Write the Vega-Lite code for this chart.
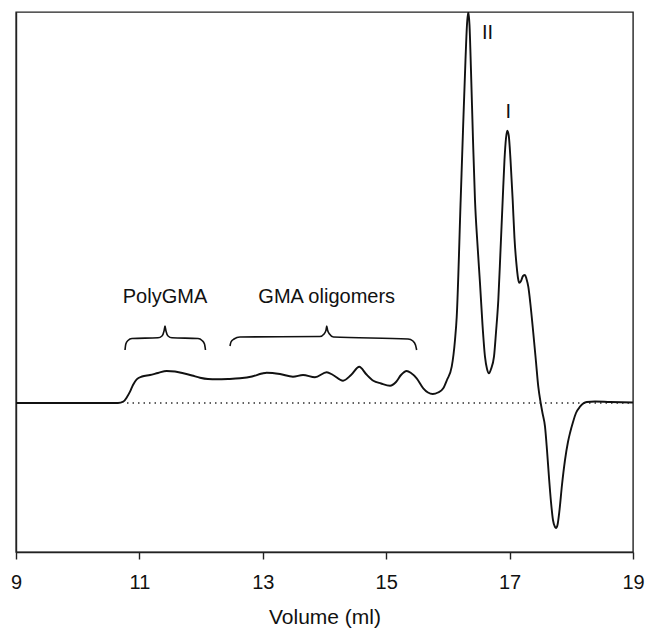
{
  "$schema": "https://vega.github.io/schema/vega-lite/v6.json",
  "width": 617,
  "height": 540,
  "autosize": "none",
  "padding": {"left": 16, "top": 12, "right": 12, "bottom": 86},
  "background": "white",
  "config": {
    "view": {"stroke": "#222", "strokeWidth": 1.4},
    "font": "Liberation Sans"
  },
  "datasets": {
    "trace": [
      {"v": 9.0, "s": 0}, {"v": 9.713, "s": 0}, {"v": 10.361, "s": 0}, {"v": 10.653, "s": 0},
      {"v": 10.739, "s": 1.3}, {"v": 10.799, "s": 6}, {"v": 10.848, "s": 11.3}, {"v": 10.896, "s": 18},
      {"v": 10.956, "s": 23.7}, {"v": 11.042, "s": 26.5}, {"v": 11.172, "s": 28}, {"v": 11.301, "s": 30},
      {"v": 11.442, "s": 32}, {"v": 11.577, "s": 31.5}, {"v": 11.711, "s": 29.7}, {"v": 11.853, "s": 27.5},
      {"v": 11.982, "s": 25.3}, {"v": 12.112, "s": 24}, {"v": 12.253, "s": 23.7}, {"v": 12.436, "s": 24},
      {"v": 12.63, "s": 24.7}, {"v": 12.825, "s": 26.5}, {"v": 12.987, "s": 29.5}, {"v": 13.063, "s": 30.3},
      {"v": 13.279, "s": 29}, {"v": 13.489, "s": 26.3}, {"v": 13.652, "s": 28}, {"v": 13.846, "s": 25.7},
      {"v": 14.036, "s": 30.7}, {"v": 14.138, "s": 28}, {"v": 14.3, "s": 22.3}, {"v": 14.43, "s": 28},
      {"v": 14.564, "s": 36.3}, {"v": 14.673, "s": 29}, {"v": 14.791, "s": 22.3}, {"v": 14.916, "s": 19.5},
      {"v": 15.062, "s": 17.3}, {"v": 15.159, "s": 21}, {"v": 15.24, "s": 28}, {"v": 15.332, "s": 32},
      {"v": 15.402, "s": 30}, {"v": 15.494, "s": 24.7}, {"v": 15.601, "s": 14.7}, {"v": 15.677, "s": 10.5},
      {"v": 15.754, "s": 9}, {"v": 15.84, "s": 10.5}, {"v": 15.925, "s": 14.7}, {"v": 15.985, "s": 23},
      {"v": 16.062, "s": 36.3}, {"v": 16.115, "s": 63}, {"v": 16.143, "s": 86.3}, {"v": 16.207, "s": 203},
      {"v": 16.245, "s": 273}, {"v": 16.285, "s": 343}, {"v": 16.309, "s": 378}, {"v": 16.331, "s": 391},
      {"v": 16.35, "s": 378}, {"v": 16.374, "s": 333}, {"v": 16.407, "s": 263}, {"v": 16.439, "s": 203},
      {"v": 16.48, "s": 158}, {"v": 16.52, "s": 120}, {"v": 16.561, "s": 78}, {"v": 16.601, "s": 46.3},
      {"v": 16.634, "s": 34}, {"v": 16.666, "s": 29.7}, {"v": 16.699, "s": 34}, {"v": 16.747, "s": 46.3},
      {"v": 16.78, "s": 71}, {"v": 16.817, "s": 103}, {"v": 16.853, "s": 153}, {"v": 16.888, "s": 203},
      {"v": 16.917, "s": 243}, {"v": 16.942, "s": 265}, {"v": 16.963, "s": 272.3}, {"v": 16.987, "s": 267},
      {"v": 17.015, "s": 243}, {"v": 17.05, "s": 203}, {"v": 17.079, "s": 165}, {"v": 17.115, "s": 136.3},
      {"v": 17.136, "s": 125}, {"v": 17.157, "s": 120.3}, {"v": 17.185, "s": 122}, {"v": 17.217, "s": 127},
      {"v": 17.25, "s": 128}, {"v": 17.274, "s": 124}, {"v": 17.303, "s": 116.3}, {"v": 17.339, "s": 98},
      {"v": 17.384, "s": 70}, {"v": 17.428, "s": 41}, {"v": 17.465, "s": 16.3}, {"v": 17.504, "s": 0},
      {"v": 17.533, "s": -10}, {"v": 17.574, "s": -23.7}, {"v": 17.606, "s": -47}, {"v": 17.639, "s": -75},
      {"v": 17.671, "s": -99}, {"v": 17.703, "s": -117}, {"v": 17.736, "s": -124}, {"v": 17.752, "s": -125},
      {"v": 17.776, "s": -122}, {"v": 17.809, "s": -107}, {"v": 17.849, "s": -82}, {"v": 17.898, "s": -57},
      {"v": 17.946, "s": -39}, {"v": 17.979, "s": -30}, {"v": 18.028, "s": -19}, {"v": 18.076, "s": -10},
      {"v": 18.141, "s": -3.7}, {"v": 18.25, "s": 1}, {"v": 18.384, "s": 1.5}, {"v": 18.627, "s": 1},
      {"v": 19.0, "s": 0.5}
    ],
    "braces": [
      {"b": "poly", "i": 0, "v": 10.767, "s": 53}, {"b": "poly", "i": 1, "v": 10.78, "s": 59},
      {"b": "poly", "i": 2, "v": 10.815, "s": 62.5}, {"b": "poly", "i": 3, "v": 10.88, "s": 64.5},
      {"b": "poly", "i": 4, "v": 11.301, "s": 65.2}, {"b": "poly", "i": 5, "v": 11.366, "s": 67},
      {"b": "poly", "i": 6, "v": 11.399, "s": 72}, {"b": "poly", "i": 7, "v": 11.415, "s": 77},
      {"b": "poly", "i": 8, "v": 11.431, "s": 72}, {"b": "poly", "i": 9, "v": 11.464, "s": 67},
      {"b": "poly", "i": 10, "v": 11.528, "s": 65.2}, {"b": "poly", "i": 11, "v": 11.95, "s": 64.5},
      {"b": "poly", "i": 12, "v": 12.015, "s": 62.5}, {"b": "poly", "i": 13, "v": 12.055, "s": 59},
      {"b": "poly", "i": 14, "v": 12.071, "s": 53},
      {"b": "olig", "i": 0, "v": 12.468, "s": 57}, {"b": "olig", "i": 1, "v": 12.484, "s": 61},
      {"b": "olig", "i": 2, "v": 12.533, "s": 64}, {"b": "olig", "i": 3, "v": 12.63, "s": 66},
      {"b": "olig", "i": 4, "v": 13.927, "s": 66.5}, {"b": "olig", "i": 5, "v": 13.992, "s": 69},
      {"b": "olig", "i": 6, "v": 14.025, "s": 73}, {"b": "olig", "i": 7, "v": 14.036, "s": 77},
      {"b": "olig", "i": 8, "v": 14.049, "s": 73}, {"b": "olig", "i": 9, "v": 14.081, "s": 69},
      {"b": "olig", "i": 10, "v": 14.146, "s": 66}, {"b": "olig", "i": 11, "v": 15.353, "s": 64},
      {"b": "olig", "i": 12, "v": 15.434, "s": 62}, {"b": "olig", "i": 13, "v": 15.475, "s": 58},
      {"b": "olig", "i": 14, "v": 15.494, "s": 53}
    ],
    "labels": [
      {"v": 11.415, "s": 106, "text": "PolyGMA"},
      {"v": 14.036, "s": 106, "text": "GMA oligomers"},
      {"v": 16.642, "s": 370, "text": "II"},
      {"v": 16.979, "s": 291, "text": "I"}
    ]
  },
  "layer": [
    {
      "data": {"values": [{"v0": 10.8, "v1": 19.0, "s": 0}]},
      "mark": {"type": "rule", "stroke": "#222", "strokeWidth": 1.4, "strokeDash": [1.4, 4.1]},
      "encoding": {
        "x": {"field": "v0", "type": "quantitative"},
        "x2": {"field": "v1"},
        "y": {"field": "s", "type": "quantitative"}
      }
    },
    {
      "data": {"name": "trace"},
      "mark": {"type": "line", "stroke": "#111", "strokeWidth": 1.9, "interpolate": "monotone", "clip": true},
      "encoding": {
        "x": {
          "field": "v",
          "type": "quantitative",
          "scale": {"domain": [9, 19], "nice": false, "zero": false},
          "axis": {
            "values": [9, 11, 13, 15, 17, 19],
            "format": "d",
            "grid": false,
            "domainColor": "#222",
            "domainWidth": 1.4,
            "tickColor": "#222",
            "tickWidth": 1.4,
            "tickSize": 7,
            "labelFont": "Liberation Sans",
            "labelFontSize": 20,
            "labelColor": "#111",
            "labelPadding": 13,
            "labelFlush": false,
            "title": "Volume (ml)",
            "titleFont": "Liberation Sans",
            "titleFontSize": 21,
            "titleFontWeight": "normal",
            "titleColor": "#111",
            "titlePadding": 14
          }
        },
        "y": {
          "field": "s",
          "type": "quantitative",
          "scale": {"domain": [-149, 391], "nice": false, "zero": false},
          "axis": {
            "domainColor": "#222",
            "domainWidth": 1.4,
            "ticks": false,
            "labels": false,
            "grid": false,
            "title": null
          }
        }
      }
    },
    {
      "data": {"name": "braces"},
      "mark": {"type": "line", "stroke": "#111", "strokeWidth": 1.6, "interpolate": "monotone"},
      "encoding": {
        "x": {"field": "v", "type": "quantitative"},
        "y": {"field": "s", "type": "quantitative"},
        "detail": {"field": "b"},
        "order": {"field": "i"}
      }
    },
    {
      "data": {"name": "labels"},
      "mark": {"type": "text", "font": "Liberation Sans", "fontSize": 20, "color": "#111", "align": "center", "baseline": "middle"},
      "encoding": {
        "x": {"field": "v", "type": "quantitative"},
        "y": {"field": "s", "type": "quantitative"},
        "text": {"field": "text"}
      }
    }
  ]
}
